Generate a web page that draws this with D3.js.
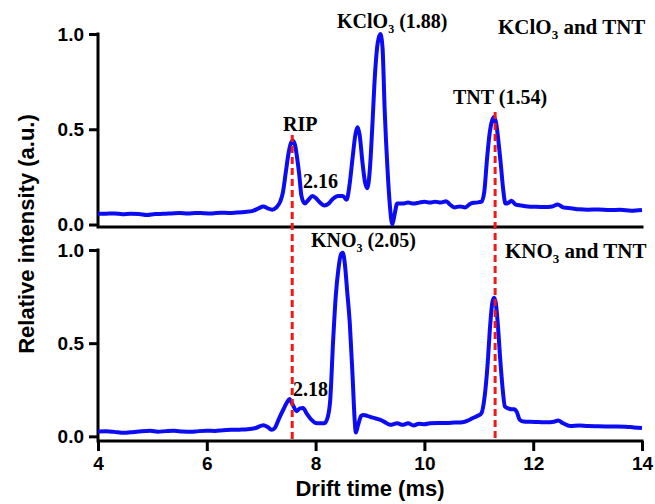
<!DOCTYPE html>
<html>
<head>
<meta charset="utf-8">
<script src="https://cdn.jsdelivr.net/npm/d3@7"></script>
<style>
  body { margin: 0; background: #fff; }
  .lbl { font-family: "Liberation Serif", "Times New Roman", serif; font-weight: bold; fill: #000; }
  .axis text { font-family: "Liberation Sans", Arial, sans-serif; font-weight: bold; font-size: 19px; fill: #000; }
  .title { font-family: "Liberation Sans", Arial, sans-serif; font-weight: bold; font-size: 22px; fill: #000; }
</style>
</head>
<body>
<div id="chart"></div>
<script>
// drift time (ms) and relative intensity
let topTime = [4.00, 4.15, 4.30, 4.45, 4.60, 4.75, 4.90, 5.05, 5.20, 5.35, 5.50, 5.65, 5.80, 5.95, 6.10, 6.25, 6.40, 6.55, 6.70, 6.85, 6.95, 7.04, 7.12, 7.20, 7.28, 7.35, 7.40, 7.45, 7.50, 7.55, 7.58, 7.62, 7.66, 7.70, 7.74, 7.80, 7.87, 7.94, 8.00, 8.08, 8.16, 8.24, 8.32, 8.42, 8.50, 8.57, 8.62, 8.68, 8.73, 8.77, 8.81, 8.86, 8.91, 8.95, 9.00, 9.04, 9.09, 9.14, 9.19, 9.23, 9.27, 9.32, 9.36, 9.41, 9.45, 9.50, 9.60, 9.70, 9.80, 9.90, 10.00, 10.10, 10.20, 10.30, 10.40, 10.47, 10.55, 10.65, 10.75, 10.85, 10.95, 11.05, 11.10, 11.15, 11.20, 11.25, 11.28, 11.32, 11.36, 11.40, 11.45, 11.49, 11.55, 11.60, 11.68, 11.78, 11.90, 12.05, 12.20, 12.35, 12.45, 12.55, 12.70, 12.85, 13.00, 13.20, 13.40, 13.60, 13.80, 14.00];
let topVal = [0.056, 0.057, 0.058, 0.054, 0.056, 0.055, 0.050, 0.055, 0.056, 0.058, 0.060, 0.058, 0.061, 0.059, 0.058, 0.062, 0.061, 0.063, 0.066, 0.072, 0.085, 0.095, 0.085, 0.078, 0.090, 0.120, 0.170, 0.270, 0.370, 0.430, 0.440, 0.420, 0.350, 0.260, 0.150, 0.110, 0.130, 0.150, 0.140, 0.115, 0.100, 0.110, 0.135, 0.150, 0.150, 0.130, 0.200, 0.350, 0.470, 0.510, 0.470, 0.330, 0.220, 0.190, 0.300, 0.500, 0.780, 0.950, 1.000, 0.930, 0.600, 0.300, 0.120, 0.000, 0.050, 0.110, 0.110, 0.115, 0.110, 0.115, 0.120, 0.115, 0.120, 0.115, 0.122, 0.105, 0.090, 0.095, 0.090, 0.110, 0.115, 0.120, 0.170, 0.340, 0.480, 0.550, 0.565, 0.530, 0.440, 0.330, 0.180, 0.110, 0.115, 0.125, 0.105, 0.100, 0.095, 0.093, 0.092, 0.095, 0.105, 0.090, 0.085, 0.080, 0.078, 0.079, 0.076, 0.077, 0.072, 0.076];

let botTime = [4.00, 4.15, 4.30, 4.47, 4.60, 4.75, 4.96, 5.10, 5.25, 5.40, 5.55, 5.70, 5.85, 6.00, 6.15, 6.30, 6.45, 6.60, 6.75, 6.90, 7.04, 7.12, 7.19, 7.25, 7.32, 7.40, 7.47, 7.52, 7.58, 7.65, 7.71, 7.77, 7.84, 7.92, 8.00, 8.08, 8.16, 8.22, 8.27, 8.32, 8.37, 8.42, 8.47, 8.50, 8.54, 8.58, 8.63, 8.68, 8.72, 8.74, 8.78, 8.84, 8.88, 8.95, 9.05, 9.18, 9.28, 9.37, 9.50, 9.60, 9.70, 9.80, 9.90, 10.00, 10.10, 10.25, 10.40, 10.55, 10.70, 10.80, 10.90, 10.98, 11.05, 11.11, 11.16, 11.21, 11.25, 11.28, 11.31, 11.35, 11.39, 11.44, 11.48, 11.54, 11.60, 11.65, 11.70, 11.75, 11.82, 11.95, 12.10, 12.25, 12.38, 12.46, 12.55, 12.68, 12.85, 13.00, 13.20, 13.47, 13.70, 13.85, 14.00];
let botVal = [0.026, 0.027, 0.024, 0.019, 0.022, 0.026, 0.030, 0.025, 0.028, 0.030, 0.026, 0.024, 0.028, 0.030, 0.029, 0.033, 0.035, 0.036, 0.038, 0.045, 0.060, 0.050, 0.035, 0.045, 0.090, 0.140, 0.180, 0.200, 0.170, 0.135, 0.150, 0.152, 0.120, 0.090, 0.072, 0.070, 0.070, 0.100, 0.200, 0.500, 0.750, 0.900, 0.980, 0.985, 0.920, 0.780, 0.600, 0.320, 0.080, 0.020, 0.060, 0.110, 0.115, 0.110, 0.100, 0.090, 0.075, 0.062, 0.070, 0.062, 0.070, 0.058, 0.068, 0.065, 0.070, 0.072, 0.072, 0.074, 0.076, 0.085, 0.100, 0.110, 0.125, 0.220, 0.380, 0.600, 0.720, 0.744, 0.720, 0.600, 0.430, 0.250, 0.160, 0.150, 0.145, 0.145, 0.130, 0.090, 0.080, 0.078, 0.077, 0.075, 0.078, 0.085, 0.070, 0.055, 0.058, 0.055, 0.054, 0.053, 0.052, 0.048, 0.045];

// dashed marker lines: RIP and TNT drift times, top end in top-panel intensity
let markerTime = [7.57, 11.3];
let markerTop = [0.47, 0.59];

let xTicks = [4, 6, 8, 10, 12, 14];
let yTicks = [0, 0.5, 1.0];

let draw = () => {
  var width = 655,
    height = 504;

  var svg = d3
    .select("#chart")
    .append("svg")
    .attr("width", width)
    .attr("height", height);

  var Xaxis = d3.scaleLinear().domain([4, 14]).range([98, 642]),
    YTop = d3.scaleLinear().domain([-0.013, 1]).range([227, 34]),
    YBot = d3.scaleLinear().domain([-0.025, 1]).range([441, 250]);

  var topData = topTime.map((t, i) => ({ t: t, v: topVal[i] })),
    botData = botTime.map((t, i) => ({ t: t, v: botVal[i] }));

  // axes
  var drawPanel = (Y, showX) => {
    var ya = svg
      .append("g")
      .attr("class", "axis")
      .attr("transform", `translate(${Xaxis(4)}, 0)`)
      .call(
        d3
          .axisLeft(Y)
          .tickValues(yTicks)
          .tickFormat(d3.format(".1f"))
          .tickSize(9)
          .tickPadding(5)
      );
    ya.select(".domain").remove();
    ya.selectAll("line").attr("stroke", "#000").attr("stroke-width", 3);

    svg
      .append("path")
      .attr("d", `M${Xaxis(4)} ${Y(1) - 1.5} V${Y.range()[0]} H${Xaxis(14) + 1.5}`)
      .attr("fill", "none")
      .attr("stroke", "#000")
      .attr("stroke-width", 3);

    if (showX) {
      var xa = svg
        .append("g")
        .attr("class", "axis")
        .attr("transform", `translate(0, ${Y.range()[0]})`)
        .call(d3.axisBottom(Xaxis).tickValues(xTicks).tickSize(10).tickPadding(6));
      xa.select(".domain").remove();
      xa.selectAll("line").attr("stroke", "#000").attr("stroke-width", 3);
    }
  };
  drawPanel(YTop, false);
  drawPanel(YBot, true);

  var line = (Y) =>
    d3
      .line()
      .x((d) => Xaxis(d.t))
      .y((d) => Y(d.v))
      .curve(d3.curveMonotoneX);

  svg
    .append("path")
    .attr("d", line(YTop)(topData))
    .attr("fill", "none")
    .attr("stroke", "#0c0cf2")
    .attr("stroke-width", 4)
    .attr("stroke-linejoin", "round");

  svg
    .append("path")
    .attr("d", line(YBot)(botData))
    .attr("fill", "none")
    .attr("stroke", "#0c0cf2")
    .attr("stroke-width", 4)
    .attr("stroke-linejoin", "round");

  // red dashed markers
  svg
    .selectAll(".marker")
    .data(markerTime)
    .enter()
    .append("line")
    .attr("class", "marker")
    .attr("x1", (d) => Xaxis(d))
    .attr("x2", (d) => Xaxis(d))
    .attr("y1", (d, i) => YTop(markerTop[i]))
    .attr("y2", YBot.range()[0])
    .attr("stroke", "#f01818")
    .attr("stroke-width", 3)
    .attr("stroke-dasharray", "7,4");

  // annotations
  var label = (x, y, size, parts) => {
    var t = svg
      .append("text")
      .attr("class", "lbl")
      .attr("x", x)
      .attr("y", y)
      .style("font-size", size + "px");
    parts.forEach((p) => {
      if (p.sub) {
        t.append("tspan")
          .text(p.sub)
          .attr("dy", 5)
          .style("font-size", Math.round(size * 0.62) + "px");
      } else {
        t.append("tspan").text(p.s).attr("dy", p.up ? -5 : 0);
      }
    });
  };

  label(337, 28, 20, [{ s: "KClO" }, { sub: "3" }, { s: "\u00a0(1.88)", up: true }]);
  label(498, 34, 21, [{ s: "KClO" }, { sub: "3" }, { s: "\u00a0and TNT", up: true }]);
  label(453, 104, 20, [{ s: "TNT (1.54)" }]);
  label(283, 131, 20, [{ s: "RIP" }]);
  label(303, 188, 20, [{ s: "2.16" }]);
  label(311, 247, 20, [{ s: "KNO" }, { sub: "3" }, { s: "\u00a0(2.05)", up: true }]);
  label(505, 258, 21, [{ s: "KNO" }, { sub: "3" }, { s: "\u00a0and TNT", up: true }]);
  label(293, 396, 20, [{ s: "2.18" }]);

  svg
    .append("text")
    .attr("class", "title")
    .attr("x", 370)
    .attr("y", 496)
    .attr("text-anchor", "middle")
    .text("Drift time (ms)");

  svg
    .append("text")
    .attr("class", "title")
    .attr("transform", "translate(34, 234) rotate(-90)")
    .attr("text-anchor", "middle")
    .text("Relative intensity (a.u.)");
};

draw();
</script>
</body>
</html>
